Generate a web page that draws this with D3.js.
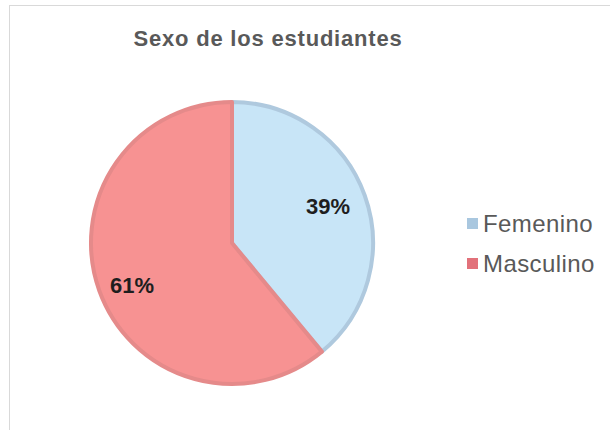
<!DOCTYPE html>
<html><head><meta charset="utf-8">
<script src="https://cdn.jsdelivr.net/npm/d3@7/dist/d3.min.js"></script>
<style>body{margin:0;background:#fff}svg{display:block}</style>
</head><body>
<svg id="c" width="610" height="430"></svg>
<script>
const categories = ["Femenino", "Masculino"];
const values = [39, 61];
const fills = ["#C8E5F7", "#F79292"];
const strokes = ["#AFC9DE", "#E58A8A"];
const legendColors = ["#A9C7DF", "#E2717A"];
const title = "Sexo de los estudiantes";

const svg = d3.select("#c");
svg.append("rect").attr("x", 9.5).attr("y", 5.5).attr("width", 620).attr("height", 440)
  .attr("fill", "#fff").attr("stroke", "#d9d9d9").attr("stroke-width", 1);

svg.append("text").attr("x", 268).attr("y", 46).attr("text-anchor", "middle")
  .attr("font-family", "Liberation Sans, Arial, sans-serif").attr("font-weight", "bold")
  .attr("font-size", 22).attr("letter-spacing", 0.8).attr("fill", "#595959").text(title);

const cx = 232, cy = 243, r = 141;
const data = categories.map((c, i) => ({ cat: c, v: values[i], i }));
const pie = d3.pie().value(d => d.v).sort(null);
const arc = d3.arc().innerRadius(0).outerRadius(r);
const g = svg.append("g").attr("transform", `translate(${cx},${cy})`);
const arcs = pie(data);
g.selectAll("path").data(arcs).join("path")
  .attr("d", arc).attr("fill", d => fills[d.data.i])
  .attr("stroke", d => strokes[d.data.i]).attr("stroke-width", 4).attr("stroke-linejoin", "round");

const labelPos = [[96, -37], [-100, 42]];
g.selectAll("text.lbl").data(arcs).join("text").attr("class", "lbl")
  .attr("x", d => labelPos[d.data.i][0]).attr("y", d => labelPos[d.data.i][1])
  .attr("text-anchor", "middle").attr("dominant-baseline", "central")
  .attr("font-family", "Liberation Sans, Arial, sans-serif").attr("font-weight", "bold")
  .attr("font-size", 22).attr("fill", "#1e1e1e")
  .text(d => d.data.v + "%");

const leg = svg.append("g");
const ly = d3.scalePoint().domain(categories).range([223, 263]);
leg.selectAll("rect").data(categories).join("rect")
  .attr("x", 467).attr("y", d => ly(d) - 5).attr("width", 11).attr("height", 11)
  .attr("fill", (d, i) => legendColors[i]);
leg.selectAll("text").data(categories).join("text")
  .attr("x", 483).attr("y", d => ly(d) + 9)
  .attr("font-family", "Liberation Sans, Arial, sans-serif").attr("font-size", 24)
  .attr("letter-spacing", 0.4).attr("fill", "#595959").text(d => d);
</script>
</body></html>
